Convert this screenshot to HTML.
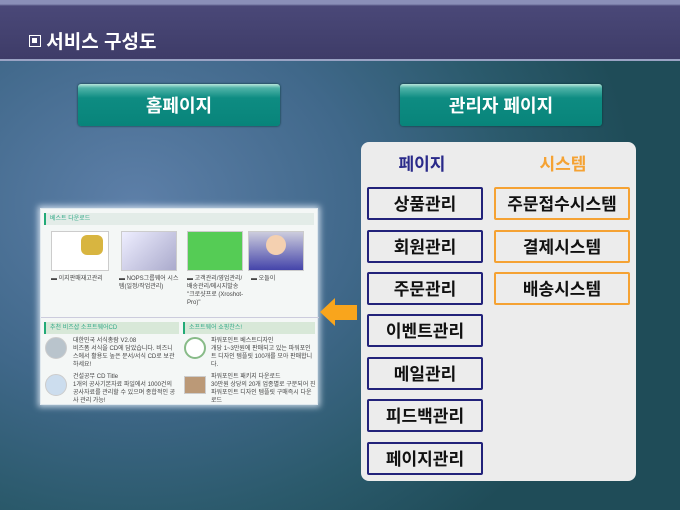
<!DOCTYPE html>
<html><head><meta charset="utf-8"><style>
*{margin:0;padding:0;box-sizing:border-box}
body{width:680px;height:510px;overflow:hidden;position:relative;font-family:"Liberation Sans","Noto Sans CJK KR",sans-serif;
background:radial-gradient(ellipse 500px 420px at 20% 40%,#5d7fa8 0%,#40688a 45%,#2b5a6c 75%,#1f4c58 100%);}
.a{position:absolute}
.band{left:0;top:0;width:680px;height:61px;background:linear-gradient(#8a8fb8 0,#8a8fb8 4px,#4a4878 6px,#3e3c68 100%);border-bottom:2px solid #9aa3c4}
.title{left:29px;top:27px;color:#fff;font-size:19px;font-weight:bold}
.btn{top:84px;width:202px;height:42px;border-radius:3px;background:linear-gradient(#b8e6dc 0,#4fb3a8 4px,#0e8c82 14px,#08847a 100%);color:#fff;font-size:18px;font-weight:bold;text-align:center;line-height:44px;box-shadow:0 0 2px #033}
.panel{left:361px;top:142px;width:275px;height:339px;background:#ececec;border-radius:8px}
.h{top:150px;font-size:17px;font-weight:bold;text-align:center;width:120px}
.b{height:33px;background:#ececec;font-size:17px;font-weight:bold;text-align:center;line-height:31px;color:#111;border-radius:2px}
.l{left:367px;width:116px;border:2px solid #22227a}
.r{left:494px;width:136px;border:2px solid #f5a233}
.shot{left:40px;top:208px;width:278px;height:197px;background:#f4f7f6;border:1px solid #dfe8ee;box-shadow:0 0 6px 2px rgba(230,240,250,.8)}
.t{font-size:6px;color:#444;line-height:8px}
</style></head><body>
<div class="a band"></div>
<div class="a title"><span style="display:inline-block;width:12px;height:12px;border:1.5px solid #fff;vertical-align:1px;position:relative"><span style="position:absolute;left:2px;top:2px;width:5px;height:5px;background:#fff"></span></span> 서비스 구성도</div>
<div class="a btn" style="left:78px">홈페이지</div>
<div class="a btn" style="left:400px">관리자 페이지</div>

<div class="a shot">
  <div class="a" style="left:3px;top:4px;width:270px;height:12px;background:#e3ece8;border-left:2px solid #2a7"></div>
  <div class="a t" style="left:9px;top:6px;color:#3a8">베스트 다운로드</div>
  <div class="a" style="left:10px;top:22px;width:58px;height:40px;background:#fff;border:1px solid #ccc"></div>
  <div class="a" style="left:40px;top:26px;width:22px;height:20px;background:#d8b540;border-radius:6px"></div>
  <div class="a" style="left:80px;top:22px;width:56px;height:40px;background:linear-gradient(135deg,#eef,#aac);border:1px solid #ccc"></div>
  <div class="a" style="left:146px;top:22px;width:56px;height:40px;background:#5c5;border:1px solid #ccc"></div>
  <div class="a" style="left:207px;top:22px;width:56px;height:40px;background:linear-gradient(#ccd,#44a);border:1px solid #ccc"></div>
  <div class="a" style="left:225px;top:26px;width:20px;height:20px;background:#f4d0b0;border-radius:50%"></div>
  <div class="a t" style="left:10px;top:66px;width:62px">▬ 이지판매재고관리</div>
  <div class="a t" style="left:78px;top:66px;width:64px">▬ NOPS그룹웨어 시스템(일정/작업관리)</div>
  <div class="a t" style="left:146px;top:66px;width:60px">▬ 고객관리/영업관리/배송관리/메시지발송 "크로샷프로 (Xroshot-Pro)"</div>
  <div class="a t" style="left:210px;top:66px">▬ 오들이</div>
  <div class="a" style="left:0;top:108px;width:278px;height:1px;background:#ccd"></div>
  <div class="a" style="left:3px;top:113px;width:135px;height:12px;background:#d8e8d8;border-left:2px solid #2a7"></div>
  <div class="a" style="left:142px;top:113px;width:132px;height:12px;background:#d8e8d8;border-left:2px solid #2a7"></div>
  <div class="a t" style="left:9px;top:115px;color:#3a8">추천 비즈샵 소프트웨어CD</div>
  <div class="a t" style="left:148px;top:115px;color:#3a8">소프트웨어 쇼핑찬스!</div>
  <div class="a" style="left:4px;top:128px;width:22px;height:22px;border-radius:50%;background:#b9c4cc;border:1px solid #ccc"></div>
  <div class="a" style="left:4px;top:165px;width:22px;height:22px;border-radius:50%;background:#cde;border:1px solid #ccc"></div>
  <div class="a" style="left:143px;top:128px;width:22px;height:22px;border-radius:50%;background:#fff;border:2px solid #8b8"></div>
  <div class="a" style="left:143px;top:167px;width:22px;height:18px;background:#b97;border:1px solid #ccc"></div>
  <div class="a t" style="left:32px;top:128px;width:105px">대한민국 서식총람 V2.08<br>비즈폼 서식을 CD에 담았습니다. 비즈니스에서 활용도 높은 문서/서식 CD로 보관하세요!</div>
  <div class="a t" style="left:32px;top:164px;width:105px">건설공무 CD Title<br>1개의 공사기본자료 파일에서 1000건의 공사자료를 관리할 수 있으며 종합적인 공사 관리 가능!</div>
  <div class="a t" style="left:170px;top:128px;width:105px">파워포인트 베스트디자인<br>개당 1~3만원에 판매되고 있는 파워포인트 디자인 템플릿 100개를 모아 판매합니다.</div>
  <div class="a t" style="left:170px;top:164px;width:105px">파워포인트 패키지 다운로드<br>30만원 상당의 20개 업종별로 구분되어 진 파워포인트 디자인 템플릿 구매즉시 다운로드</div>
</div>

<svg class="a" style="left:318px;top:295px" width="42" height="34"><polygon points="2,17 17,3 17,10 39,10 39,25 17,25 17,31" fill="#f9a51c"/></svg>

<div class="a panel"></div>
<div class="a h" style="left:362px;color:#2a2a8a">페이지</div>
<div class="a h" style="left:503px;color:#f5a233">시스템</div>
<div class="a b l" style="top:187px">상품관리</div>
<div class="a b l" style="top:230px">회원관리</div>
<div class="a b l" style="top:272px">주문관리</div>
<div class="a b l" style="top:314px">이벤트관리</div>
<div class="a b l" style="top:357px">메일관리</div>
<div class="a b l" style="top:399px">피드백관리</div>
<div class="a b l" style="top:442px">페이지관리</div>
<div class="a b r" style="top:187px">주문접수시스템</div>
<div class="a b r" style="top:230px">결제시스템</div>
<div class="a b r" style="top:272px">배송시스템</div>
</body></html>
